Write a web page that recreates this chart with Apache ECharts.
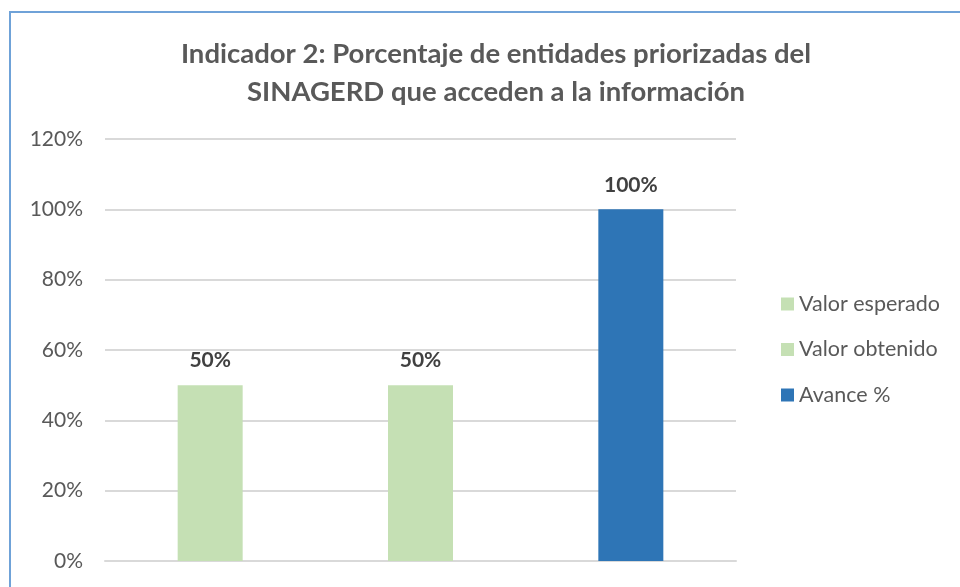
<!DOCTYPE html>
<html><head><meta charset="utf-8">
<script src="https://cdn.jsdelivr.net/npm/echarts@6/dist/echarts.min.js"></script>
<style>html,body{margin:0;padding:0;background:#fff}#c{width:960px;height:587px}</style>
</head><body><div id="c"></div>
<script>
const titleText = 'Indicador 2: Porcentaje de entidades priorizadas del\nSINAGERD que acceden a la información';
const categories = ['Valor esperado', 'Valor obtenido', 'Avance %'];
const seriesNames = ['Valor esperado', 'Valor obtenido', 'Avance %'];
const seriesValues = [50, 50, 100];
const seriesColors = ['#C5E0B4', '#C5E0B4', '#2E75B6'];
const yTicks = {min: 0, max: 120, interval: 20};

const font = 'Lato, "Open Sans", sans-serif';
const chart = echarts.init(document.getElementById('c'));
const series = seriesNames.map((n, i) => ({
  name: n,
  type: 'bar',
  barWidth: 65,
  barGap: '-100%',
  itemStyle: {color: seriesColors[i]},
  data: categories.map((c, j) => j === i ? seriesValues[i] : null),
  label: {show: true, position: 'top', distance: 14, formatter: p => p.value + '%',
    color: '#404040', fontSize: 21, fontWeight: 'bold', fontFamily: font}
}));
chart.setOption({
  animation: false,
  title: {text: titleText, left: 491, textAlign: 'center', top: 30,
    textStyle: {fontFamily: font, fontSize: 27.5, fontWeight: 'bold', color: '#595959', lineHeight: 38}},
  grid: {left: 105, right: 224, top: 139, bottom: 26},
  legend: {orient: 'vertical', left: 776, top: 286, itemWidth: 13, itemHeight: 13, itemGap: 19.5,
    icon: 'rect', textStyle: {fontFamily: font, fontSize: 21.5, color: '#595959', lineHeight: 26}, data: seriesNames},
  xAxis: {type: 'category', data: categories, axisLabel: {show: false}, axisTick: {show: false},
    axisLine: {lineStyle: {color: '#D9D9D9', width: 2}}},
  yAxis: {type: 'value', min: yTicks.min, max: yTicks.max, interval: yTicks.interval,
    axisLabel: {formatter: '{value}%', fontFamily: font, fontSize: 21, color: '#595959', margin: 22},
    splitLine: {lineStyle: {color: '#D9D9D9', width: 2}}, axisLine: {show: false}, axisTick: {show: false}},
  graphic: [{type: 'rect', shape: {x: 10, y: 12, width: 1000, height: 700},
    style: {fill: 'none', stroke: '#6FA2D8', lineWidth: 2}, silent: true}],
  series: series
});
</script></body></html>
